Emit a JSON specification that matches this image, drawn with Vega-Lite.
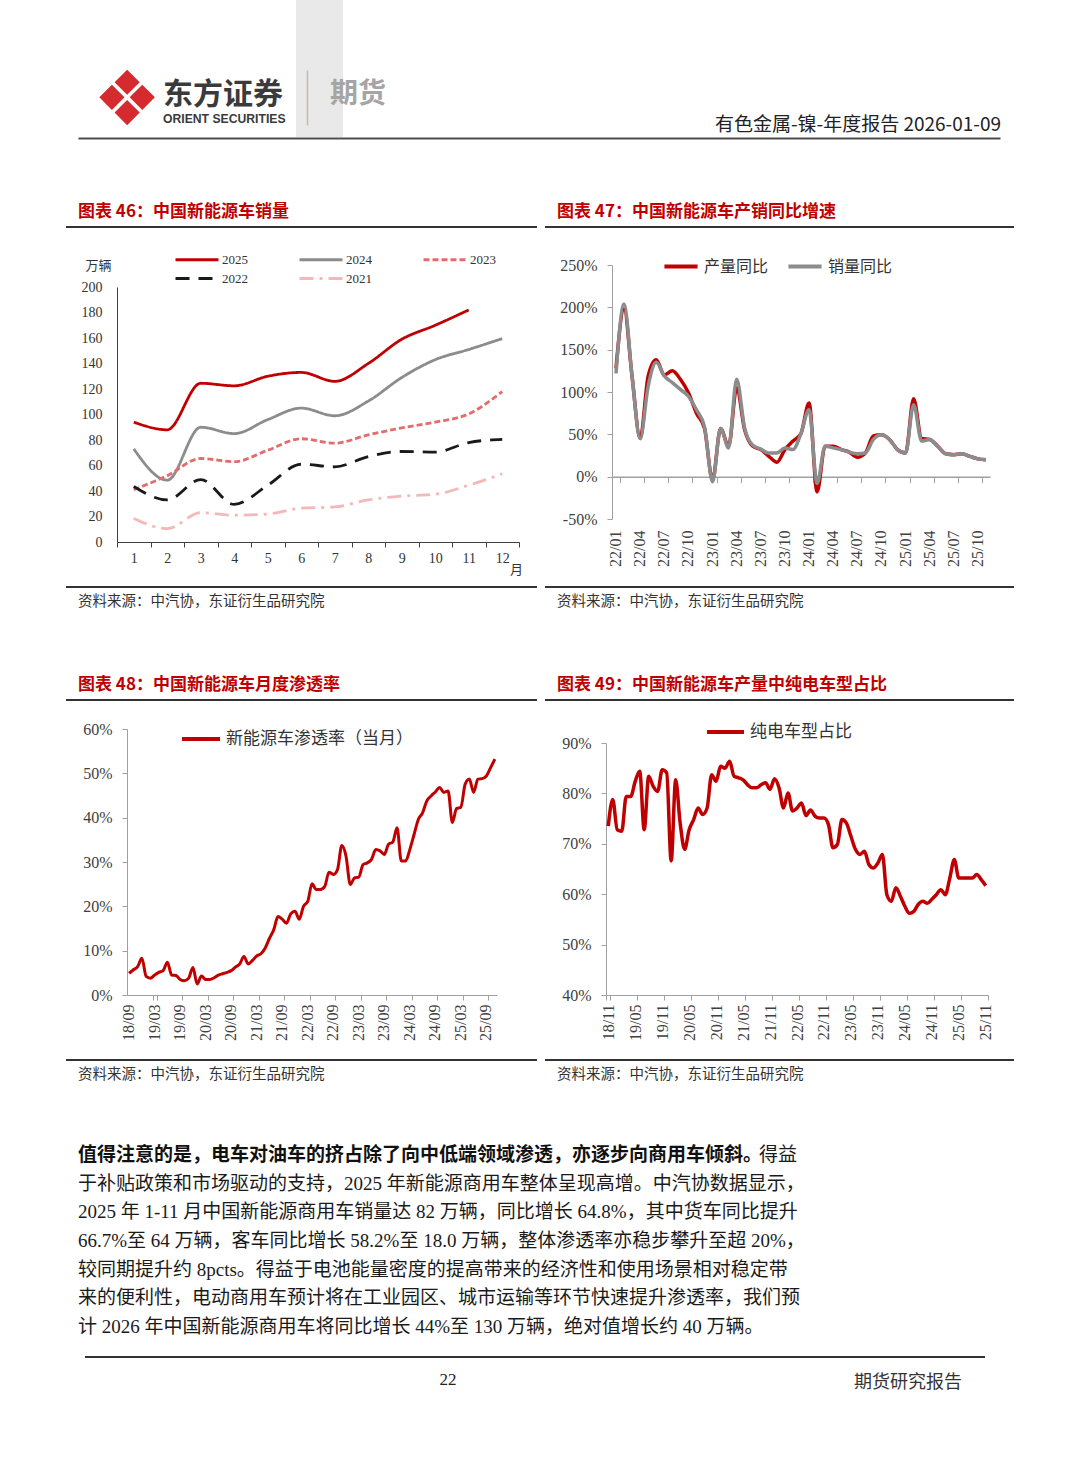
{
"$schema":"https://vega.github.io/schema/vega-lite/v6.json",
"background":"#ffffff",
"padding":0,
"autosize":{"type":"pad"},
"config":{"view":{"stroke":null},"axis":{"grid":false,"labelFont":"Liberation Serif","labelColor":"#404040","titleFont":"Noto Sans CJK SC"},"axisX":{"labelOverlap":false,"labelFlush":false,"labelBound":false},"legend":{"labelFont":"Noto Sans CJK SC"},"title":{"font":"Noto Sans CJK SC"}},
"spacing":0,
"resolve":{"scale":{"color":"independent","strokeDash":"independent"},"legend":{"color":"independent","strokeDash":"independent"}},
"vconcat":[
{"bounds":"flush","spacing":0,"hconcat":[
 {"width":91,"height":150,"data":{"values":[]},"mark":"point",
  "encoding":{"x":{"field":"v","type":"quantitative","scale":{"domain":[0,1],"range":[78,1000]},"axis":{"orient":"bottom","offset":-12,"domain":true,"domainColor":"#4d4d4d","domainWidth":2,"ticks":false,"labels":false,"title":null,"grid":false}}}},
 {"width":72,"height":137,"data":{"values":[]},"mark":"point","title":{"text":"❖","orient":"bottom","anchor":"start","frame":"group","baseline":"top","offset":-72,"dx":2,"font":"DejaVu Sans","fontSize":76,"fontWeight":"normal","color":"#d52b2e"}},
 {"width":133,"height":137,"data":{"values":[]},"mark":"point","title":{"text":"东方证券","subtitle":"ORIENT SECURITIES","orient":"bottom","anchor":"start","frame":"group","baseline":"top","offset":-57.3,"font":"Noto Sans CJK SC","fontSize":30,"fontWeight":"bold","color":"#3a3a3a","subtitleFont":"Liberation Sans","subtitleFontSize":12.2,"subtitleFontWeight":"bold","subtitleColor":"#3a3a3a","subtitlePadding":3}},
 {"width":11,"height":137,"data":{"values":[]},"mark":"point","view":{"fill":"#e9e9e9","stroke":null}},
 {"width":36,"height":137,"data":{"values":[]},"mark":"point","view":{"fill":"#e9e9e9","stroke":null},
  "encoding":{"y":{"field":"v","type":"quantitative","scale":{"domain":[0,1],"range":[125,70]},"axis":{"domain":true,"domainColor":"#c4bba6","domainWidth":1.5,"ticks":false,"labels":false,"title":null,"grid":false}}},
  "title":{"text":"期货","orient":"bottom","anchor":"start","frame":"group","baseline":"top","offset":-56.5,"dx":23,"font":"Noto Sans CJK SC","fontSize":28,"fontWeight":"bold","color":"#a5a5a5"}},
 {"width":658,"height":137,"data":{"values":[]},"mark":"point","title":{"text":"有色金属-镍-年度报告 2026-01-09","orient":"bottom","anchor":"end","frame":"group","baseline":"top","offset":-21,"font":"Noto Sans CJK SC","fontSize":19,"fontWeight":"normal","color":"#222222"}}
]},
{"bounds":"flush","spacing":0,"hconcat":[
 {"width":545,"height":76,"data":{"values":[]},"mark":"point","title":{"text":"图表 46：中国新能源车销量","orient":"bottom","anchor":"start","frame":"group","baseline":"top","offset":-22,"dx":78,"font":"Noto Sans CJK SC","fontSize":17,"fontWeight":"bold","color":"#c00000"}},
 {"width":469,"height":76,"data":{"values":[]},"mark":"point","title":{"text":"图表 47：中国新能源车产销同比增速","orient":"bottom","anchor":"start","frame":"group","baseline":"top","offset":-22,"dx":12,"font":"Noto Sans CJK SC","fontSize":17,"fontWeight":"bold","color":"#c00000"}}
]},
{"bounds":"flush","spacing":0,"hconcat":[
 {"width":66,"height":2,"data":{"values":[]},"mark":"point"},
 {"width":471,"height":2,"data":{"values":[]},"mark":"point","view":{"fill":"#333333","stroke":null}},
 {"width":8,"height":2,"data":{"values":[]},"mark":"point"},
 {"width":469,"height":2,"data":{"values":[]},"mark":"point","view":{"fill":"#333333","stroke":null}}
]},
{"bounds":"flush","spacing":0,
 "resolve":{"scale":{"color":"independent","strokeDash":"independent"},"legend":{"color":"independent","strokeDash":"independent"}},
 "hconcat":[
 {"width":117,"height":358,"data":{"values":[]},"mark":"point"},
 {"width":402,"height":314,
  "data":{"values":[
  {"yr":"2025","m":1,"v":94},{"yr":"2025","m":2,"v":88},{"yr":"2025","m":3,"v":124.5},{"yr":"2025","m":4,"v":122.5},{"yr":"2025","m":5,"v":130},{"yr":"2025","m":6,"v":133},{"yr":"2025","m":7,"v":126},{"yr":"2025","m":8,"v":140},{"yr":"2025","m":9,"v":159},{"yr":"2025","m":10,"v":170},{"yr":"2025","m":11,"v":182},
  {"yr":"2024","m":1,"v":73},{"yr":"2024","m":2,"v":48.5},{"yr":"2024","m":3,"v":90},{"yr":"2024","m":4,"v":85},{"yr":"2024","m":5,"v":96},{"yr":"2024","m":6,"v":105},{"yr":"2024","m":7,"v":99},{"yr":"2024","m":8,"v":110.5},{"yr":"2024","m":9,"v":129},{"yr":"2024","m":10,"v":143},{"yr":"2024","m":11,"v":151},{"yr":"2024","m":12,"v":159.5},
  {"yr":"2023","m":1,"v":41},{"yr":"2023","m":2,"v":52},{"yr":"2023","m":3,"v":65.5},{"yr":"2023","m":4,"v":63},{"yr":"2023","m":5,"v":72},{"yr":"2023","m":6,"v":81},{"yr":"2023","m":7,"v":77.5},{"yr":"2023","m":8,"v":84},{"yr":"2023","m":9,"v":89.5},{"yr":"2023","m":10,"v":94},{"yr":"2023","m":11,"v":100.5},{"yr":"2023","m":12,"v":118},
  {"yr":"2022","m":1,"v":43.5},{"yr":"2022","m":2,"v":33},{"yr":"2022","m":3,"v":49},{"yr":"2022","m":4,"v":29.5},{"yr":"2022","m":5,"v":44.5},{"yr":"2022","m":6,"v":61},{"yr":"2022","m":7,"v":59},{"yr":"2022","m":8,"v":67},{"yr":"2022","m":9,"v":71},{"yr":"2022","m":10,"v":70.5},{"yr":"2022","m":11,"v":78},{"yr":"2022","m":12,"v":80.5},
  {"yr":"2021","m":1,"v":18.5},{"yr":"2021","m":2,"v":10.5},{"yr":"2021","m":3,"v":23},{"yr":"2021","m":4,"v":21},{"yr":"2021","m":5,"v":22},{"yr":"2021","m":6,"v":26.5},{"yr":"2021","m":7,"v":27.5},{"yr":"2021","m":8,"v":33},{"yr":"2021","m":9,"v":36},{"yr":"2021","m":10,"v":37.5},{"yr":"2021","m":11,"v":44.5},{"yr":"2021","m":12,"v":53.5}
  ]},
  "mark":{"type":"line","interpolate":"monotone","strokeWidth":2.8},
  "encoding":{
   "x":{"field":"m","type":"ordinal","bandPosition":0.5,"scale":{"type":"band","paddingInner":0,"paddingOuter":0},
        "axis":{"labelAngle":0,"tickBand":"extent","domainColor":"#404040","tickColor":"#404040","tickSize":5,"labelPadding":4,"labelFontSize":14,"labelColor":"#333333","title":"月","titleX":399,"titleY":27,"titleAlign":"center","titleBaseline":"middle","titleFontSize":13,"titleFontWeight":"normal","titleColor":"#333333"}},
   "y":{"field":"v","type":"quantitative","scale":{"domain":[0,200],"range":[314,59],"nice":false},
        "axis":{"values":[0,20,40,60,80,100,120,140,160,180,200],"domainColor":"#404040","ticks":false,"labelPadding":15,"labelFontSize":14,"labelColor":"#333333","title":"万辆","titleAngle":0,"titleX":-19,"titleY":37,"titleAlign":"center","titleBaseline":"middle","titleFontSize":13,"titleFontWeight":"normal","titleColor":"#333333"}},
   "color":{"field":"yr","type":"nominal","scale":{"domain":["2025","2024","2023","2022","2021"],"range":["#c00000","#8c8c8c","#e36c6c","#1a1a1a","#f4b8b8"]},
        "legend":{"orient":"none","legendX":80,"legendY":20,"direction":"horizontal","columns":3,"title":null,"symbolType":"M-3.3,0H1","symbolSize":400,"symbolStrokeWidth":3,"labelFont":"Liberation Serif","labelFontSize":13,"labelColor":"#333333","labelOffset":2,"columnPadding":45,"rowPadding":-1}},
   "strokeDash":{"field":"yr","type":"nominal","scale":{"domain":["2025","2024","2023","2022","2021"],"range":[[1,0],[1,0],[6,3],[14,9],[14,6,3,6]]},
        "legend":{"orient":"none","legendX":80,"legendY":20,"direction":"horizontal","columns":3,"title":null,"symbolType":"M-3.3,0H1","symbolSize":400,"symbolStrokeWidth":3,"labelFont":"Liberation Serif","labelFontSize":13,"labelColor":"#333333","labelOffset":2,"columnPadding":45,"rowPadding":-1}}
  }},
 {"width":93,"height":1,"data":{"values":[]},"mark":"point"},
 {"width":378,"height":291,
  "data":{"values":[
  {"m":"22/01","s":"产量同比","v":128},{"m":"22/02","s":"产量同比","v":198},{"m":"22/03","s":"产量同比","v":118},{"m":"22/04","s":"产量同比","v":45},{"m":"22/05","s":"产量同比","v":119},{"m":"22/06","s":"产量同比","v":138},{"m":"22/07","s":"产量同比","v":120},{"m":"22/08","s":"产量同比","v":125},{"m":"22/09","s":"产量同比","v":115},{"m":"22/10","s":"产量同比","v":99},{"m":"22/11","s":"产量同比","v":75},{"m":"22/12","s":"产量同比","v":57},
  {"m":"23/01","s":"产量同比","v":-4},{"m":"23/02","s":"产量同比","v":57},{"m":"23/03","s":"产量同比","v":36},{"m":"23/04","s":"产量同比","v":105},{"m":"23/05","s":"产量同比","v":55},{"m":"23/06","s":"产量同比","v":36},{"m":"23/07","s":"产量同比","v":32},{"m":"23/08","s":"产量同比","v":24},{"m":"23/09","s":"产量同比","v":17},{"m":"23/10","s":"产量同比","v":32},{"m":"23/11","s":"产量同比","v":42},{"m":"23/12","s":"产量同比","v":51},
  {"m":"24/01","s":"产量同比","v":87},{"m":"24/02","s":"产量同比","v":-18},{"m":"24/03","s":"产量同比","v":36},{"m":"24/04","s":"产量同比","v":36},{"m":"24/05","s":"产量同比","v":32},{"m":"24/06","s":"产量同比","v":29},{"m":"24/07","s":"产量同比","v":23},{"m":"24/08","s":"产量同比","v":28},{"m":"24/09","s":"产量同比","v":48},{"m":"24/10","s":"产量同比","v":49.5},{"m":"24/11","s":"产量同比","v":44},{"m":"24/12","s":"产量同比","v":32},
  {"m":"25/01","s":"产量同比","v":28},{"m":"25/02","s":"产量同比","v":92},{"m":"25/03","s":"产量同比","v":45},{"m":"25/04","s":"产量同比","v":44},{"m":"25/05","s":"产量同比","v":36},{"m":"25/06","s":"产量同比","v":27},{"m":"25/07","s":"产量同比","v":26},{"m":"25/08","s":"产量同比","v":27},{"m":"25/09","s":"产量同比","v":24},{"m":"25/10","s":"产量同比","v":21},{"m":"25/11","s":"产量同比","v":20},
  {"m":"22/01","s":"销量同比","v":122},{"m":"22/02","s":"销量同比","v":204},{"m":"22/03","s":"销量同比","v":118},{"m":"22/04","s":"销量同比","v":45},{"m":"22/05","s":"销量同比","v":107},{"m":"22/06","s":"销量同比","v":135},{"m":"22/07","s":"销量同比","v":119},{"m":"22/08","s":"销量同比","v":111},{"m":"22/09","s":"销量同比","v":103},{"m":"22/10","s":"销量同比","v":95},{"m":"22/11","s":"销量同比","v":79},{"m":"22/12","s":"销量同比","v":59},
  {"m":"23/01","s":"销量同比","v":-6},{"m":"23/02","s":"销量同比","v":57},{"m":"23/03","s":"销量同比","v":34},{"m":"23/04","s":"销量同比","v":115},{"m":"23/05","s":"销量同比","v":57},{"m":"23/06","s":"销量同比","v":37},{"m":"23/07","s":"销量同比","v":32.5},{"m":"23/08","s":"销量同比","v":28},{"m":"23/09","s":"销量同比","v":28},{"m":"23/10","s":"销量同比","v":34},{"m":"23/11","s":"销量同比","v":32},{"m":"23/12","s":"销量同比","v":51},
  {"m":"24/01","s":"销量同比","v":79},{"m":"24/02","s":"销量同比","v":-8},{"m":"24/03","s":"销量同比","v":36},{"m":"24/04","s":"销量同比","v":34},{"m":"24/05","s":"销量同比","v":32},{"m":"24/06","s":"销量同比","v":29},{"m":"24/07","s":"销量同比","v":27},{"m":"24/08","s":"销量同比","v":28},{"m":"24/09","s":"销量同比","v":44},{"m":"24/10","s":"销量同比","v":49.5},{"m":"24/11","s":"销量同比","v":44},{"m":"24/12","s":"销量同比","v":32},
  {"m":"25/01","s":"销量同比","v":28},{"m":"25/02","s":"销量同比","v":85},{"m":"25/03","s":"销量同比","v":42},{"m":"25/04","s":"销量同比","v":44},{"m":"25/05","s":"销量同比","v":36},{"m":"25/06","s":"销量同比","v":27},{"m":"25/07","s":"销量同比","v":26},{"m":"25/08","s":"销量同比","v":27},{"m":"25/09","s":"销量同比","v":24},{"m":"25/10","s":"销量同比","v":21},{"m":"25/11","s":"销量同比","v":20}
  ]},
  "layer":[
   {"transform":[{"filter":"datum.s == '产量同比'"}],
    "mark":{"type":"line","interpolate":"monotone","strokeWidth":3.5},
    "encoding":{
     "x":{"field":"m","type":"ordinal","bandPosition":0.5,"scale":{"type":"band","paddingInner":0,"paddingOuter":0},
          "axis":{"orient":"bottom","values":["22/01","22/04","22/07","22/10","23/01","23/04","23/07","23/10","24/01","24/04","24/07","24/10","25/01","25/04","25/07","25/10"],"labelAngle":270,"domain":false,"ticks":false,"labelPadding":11,"labelFontSize":16,"title":null}},
     "y":{"field":"v","type":"quantitative","scale":{"domain":[-50,250],"range":[291,37],"nice":false},
          "axis":{"values":[-50,0,50,100,150,200,250],"labelExpr":"datum.value + '%'","title":null,"domainColor":"#a0a0a0","tickColor":"#a0a0a0","tickSize":5,"labelPadding":10,"labelFontSize":16}},
     "color":{"field":"s","type":"nominal","scale":{"domain":["产量同比","销量同比"],"range":["#c00000","#8c8c8c"]},
          "legend":{"orient":"none","legendX":50,"legendY":19.5,"direction":"horizontal","title":null,"symbolType":"stroke","symbolSize":1100,"symbolStrokeWidth":4,"labelFontSize":16,"labelColor":"#333333","labelOffset":4,"columnPadding":11}}
    }},
   {"transform":[{"filter":"datum.s == '销量同比'"}],
    "mark":{"type":"line","interpolate":"monotone","strokeWidth":3.5},
    "encoding":{
     "x":{"field":"m","type":"ordinal","bandPosition":0.5,"scale":{"type":"band","paddingInner":0,"paddingOuter":0},
          "axis":{"orient":"bottom","offset":-42.33,"values":["22/01","22/04","22/07","22/10","23/01","23/04","23/07","23/10","24/01","24/04","24/07","24/10","25/01","25/04","25/07","25/10"],"tickBand":"extent","labels":false,"title":null,"domainColor":"#a0a0a0","tickColor":"#a0a0a0","tickSize":6,"domainWidth":1.5}},
     "y":{"field":"v","type":"quantitative","scale":{"domain":[-50,250],"range":[291,37],"nice":false},
          "axis":{"values":[-50,0,50,100,150,200,250],"labelExpr":"datum.value + '%'","title":null,"domainColor":"#a0a0a0","tickColor":"#a0a0a0","tickSize":5,"labelPadding":10,"labelFontSize":16}},
     "color":{"field":"s","type":"nominal","scale":{"domain":["产量同比","销量同比"],"range":["#c00000","#8c8c8c"]},
          "legend":{"orient":"none","legendX":50,"legendY":19.5,"direction":"horizontal","title":null,"symbolType":"stroke","symbolSize":1100,"symbolStrokeWidth":4,"labelFontSize":16,"labelColor":"#333333","labelOffset":4,"columnPadding":11}}
    }}
  ],
  "resolve":{"axis":{"x":"independent"}}
 }
]},
{"bounds":"flush","spacing":0,"hconcat":[
 {"width":66,"height":113,"data":{"values":[]},"mark":"point","title":{"text":"图表 48：中国新能源车月度渗透率","orient":"bottom","anchor":"start","frame":"group","baseline":"top","offset":-22,"dx":78,"font":"Noto Sans CJK SC","fontSize":17,"fontWeight":"bold","color":"#c00000"}},
 {"width":471,"height":2,"data":{"values":[]},"mark":"point","view":{"fill":"#333333","stroke":null},"title":{"text":"资料来源：中汽协，东证衍生品研究院","orient":"bottom","anchor":"start","frame":"group","baseline":"top","offset":7.3,"dx":12,"font":"Noto Sans CJK SC","fontSize":14.5,"fontWeight":"normal","color":"#333333"}},
 {"width":8,"height":2,"data":{"values":[]},"mark":"point"},
 {"width":469,"height":2,"data":{"values":[]},"mark":"point","view":{"fill":"#333333","stroke":null},"title":{"text":"资料来源：中汽协，东证衍生品研究院","orient":"bottom","anchor":"start","frame":"group","baseline":"top","offset":7.3,"dx":12,"font":"Noto Sans CJK SC","fontSize":14.5,"fontWeight":"normal","color":"#333333"}},
 {"width":1,"height":1,"data":{"values":[]},"mark":"point","title":{"text":"图表 49：中国新能源车产量中纯电车型占比","orient":"bottom","anchor":"start","frame":"group","baseline":"top","offset":90,"dx":-457,"font":"Noto Sans CJK SC","fontSize":17,"fontWeight":"bold","color":"#c00000"}}
]},
{"bounds":"flush","spacing":0,"hconcat":[
 {"width":66,"height":2,"data":{"values":[]},"mark":"point"},
 {"width":471,"height":2,"data":{"values":[]},"mark":"point","view":{"fill":"#333333","stroke":null}},
 {"width":8,"height":2,"data":{"values":[]},"mark":"point"},
 {"width":469,"height":2,"data":{"values":[]},"mark":"point","view":{"fill":"#333333","stroke":null}}
]},
{"bounds":"flush","spacing":0,
 "resolve":{"scale":{"color":"independent"},"legend":{"color":"independent"}},
 "hconcat":[
 {"width":127,"height":358,"data":{"values":[]},"mark":"point"},
 {"width":370,"height":294,
  "data":{"values":[
  {"m":"18/09","s":"新能源车渗透率（当月）","v":4.9},{"m":"18/10","s":"新能源车渗透率（当月）","v":5.7},{"m":"18/11","s":"新能源车渗透率（当月）","v":6.4},{"m":"18/12","s":"新能源车渗透率（当月）","v":8.3},
  {"m":"19/01","s":"新能源车渗透率（当月）","v":4.2},{"m":"19/02","s":"新能源车渗透率（当月）","v":3.8},{"m":"19/03","s":"新能源车渗透率（当月）","v":4.5},{"m":"19/04","s":"新能源车渗透率（当月）","v":5.1},{"m":"19/05","s":"新能源车渗透率（当月）","v":5.5},{"m":"19/06","s":"新能源车渗透率（当月）","v":7.4},{"m":"19/07","s":"新能源车渗透率（当月）","v":4.5},{"m":"19/08","s":"新能源车渗透率（当月）","v":4.4},{"m":"19/09","s":"新能源车渗透率（当月）","v":3.5},{"m":"19/10","s":"新能源车渗透率（当月）","v":3.2},{"m":"19/11","s":"新能源车渗透率（当月）","v":3.8},{"m":"19/12","s":"新能源车渗透率（当月）","v":6.2},
  {"m":"20/01","s":"新能源车渗透率（当月）","v":2.5},{"m":"20/02","s":"新能源车渗透率（当月）","v":4.3},{"m":"20/03","s":"新能源车渗透率（当月）","v":3.5},{"m":"20/04","s":"新能源车渗透率（当月）","v":3.5},{"m":"20/05","s":"新能源车渗透率（当月）","v":3.9},{"m":"20/06","s":"新能源车渗透率（当月）","v":4.5},{"m":"20/07","s":"新能源车渗透率（当月）","v":4.8},{"m":"20/08","s":"新能源车渗透率（当月）","v":5.1},{"m":"20/09","s":"新能源车渗透率（当月）","v":5.5},{"m":"20/10","s":"新能源车渗透率（当月）","v":6.3},{"m":"20/11","s":"新能源车渗透率（当月）","v":7.0},{"m":"20/12","s":"新能源车渗透率（当月）","v":8.7},
  {"m":"21/01","s":"新能源车渗透率（当月）","v":7.0},{"m":"21/02","s":"新能源车渗透率（当月）","v":7.8},{"m":"21/03","s":"新能源车渗透率（当月）","v":8.8},{"m":"21/04","s":"新能源车渗透率（当月）","v":9.3},{"m":"21/05","s":"新能源车渗透率（当月）","v":10.6},{"m":"21/06","s":"新能源车渗透率（当月）","v":12.8},{"m":"21/07","s":"新能源车渗透率（当月）","v":14.7},{"m":"21/08","s":"新能源车渗透率（当月）","v":17.7},{"m":"21/09","s":"新能源车渗透率（当月）","v":17.1},{"m":"21/10","s":"新能源车渗透率（当月）","v":16.2},{"m":"21/11","s":"新能源车渗透率（当月）","v":18.3},{"m":"21/12","s":"新能源车渗透率（当月）","v":18.9},
  {"m":"22/01","s":"新能源车渗透率（当月）","v":17.1},{"m":"22/02","s":"新能源车渗透率（当月）","v":20.0},{"m":"22/03","s":"新能源车渗透率（当月）","v":21.1},{"m":"22/04","s":"新能源车渗透率（当月）","v":25.1},{"m":"22/05","s":"新能源车渗透率（当月）","v":23.8},{"m":"22/06","s":"新能源车渗透率（当月）","v":23.8},{"m":"22/07","s":"新能源车渗透率（当月）","v":24.5},{"m":"22/08","s":"新能源车渗透率（当月）","v":27.7},{"m":"22/09","s":"新能源车渗透率（当月）","v":27.2},{"m":"22/10","s":"新能源车渗透率（当月）","v":28.3},{"m":"22/11","s":"新能源车渗透率（当月）","v":33.7},{"m":"22/12","s":"新能源车渗透率（当月）","v":31.3},
  {"m":"23/01","s":"新能源车渗透率（当月）","v":24.9},{"m":"23/02","s":"新能源车渗透率（当月）","v":26.4},{"m":"23/03","s":"新能源车渗透率（当月）","v":26.6},{"m":"23/04","s":"新能源车渗透率（当月）","v":29.4},{"m":"23/05","s":"新能源车渗透率（当月）","v":29.8},{"m":"23/06","s":"新能源车渗透率（当月）","v":30.6},{"m":"23/07","s":"新能源车渗透率（当月）","v":32.8},{"m":"23/08","s":"新能源车渗透率（当月）","v":32.5},{"m":"23/09","s":"新能源车渗透率（当月）","v":31.7},{"m":"23/10","s":"新能源车渗透率（当月）","v":34.0},{"m":"23/11","s":"新能源车渗透率（当月）","v":34.5},{"m":"23/12","s":"新能源车渗透率（当月）","v":37.7},
  {"m":"24/01","s":"新能源车渗透率（当月）","v":30.2},{"m":"24/02","s":"新能源车渗透率（当月）","v":30.2},{"m":"24/03","s":"新能源车渗透率（当月）","v":32.8},{"m":"24/04","s":"新能源车渗透率（当月）","v":36.2},{"m":"24/05","s":"新能源车渗透率（当月）","v":39.6},{"m":"24/06","s":"新能源车渗透率（当月）","v":41.1},{"m":"24/07","s":"新能源车渗透率（当月）","v":43.8},{"m":"24/08","s":"新能源车渗透率（当月）","v":44.9},{"m":"24/09","s":"新能源车渗透率（当月）","v":45.8},{"m":"24/10","s":"新能源车渗透率（当月）","v":46.8},{"m":"24/11","s":"新能源车渗透率（当月）","v":45.7},{"m":"24/12","s":"新能源车渗透率（当月）","v":46.0},
  {"m":"25/01","s":"新能源车渗透率（当月）","v":38.9},{"m":"25/02","s":"新能源车渗透率（当月）","v":42.1},{"m":"25/03","s":"新能源车渗透率（当月）","v":42.3},{"m":"25/04","s":"新能源车渗透率（当月）","v":47.5},{"m":"25/05","s":"新能源车渗透率（当月）","v":48.7},{"m":"25/06","s":"新能源车渗透率（当月）","v":45.7},{"m":"25/07","s":"新能源车渗透率（当月）","v":48.7},{"m":"25/08","s":"新能源车渗透率（当月）","v":48.8},{"m":"25/09","s":"新能源车渗透率（当月）","v":49.4},{"m":"25/10","s":"新能源车渗透率（当月）","v":51.3},{"m":"25/11","s":"新能源车渗透率（当月）","v":53.2}
  ]},
  "layer":[
   {"mark":{"type":"line","interpolate":"monotone","strokeWidth":3},
    "encoding":{
     "x":{"field":"m","type":"ordinal","bandPosition":0.5,"scale":{"type":"band","paddingInner":0,"paddingOuter":0},
          "axis":{"orient":"bottom","values":["18/10","19/04","19/10","20/04","20/10","21/04","21/10","22/04","22/10","23/04","23/10","24/04","24/10","25/04","25/10"],"labelExpr":"replace(replace(datum.label, '/10', '/09'), '/04', '/03')","labelOffset":-4.25,"labelAngle":270,"labelOverlap":false,"labelBound":false,"labelFlush":false,"domain":false,"ticks":false,"labelPadding":9,"labelFontSize":16,"title":null}},
     "y":{"field":"v","type":"quantitative","scale":{"domain":[0,60],"range":[294,28],"nice":false},
          "axis":{"values":[0,10,20,30,40,50,60],"labelExpr":"datum.value + '%'","title":null,"domainColor":"#a0a0a0","tickColor":"#a0a0a0","tickSize":5,"labelPadding":10,"labelFontSize":16}},
     "color":{"field":"s","type":"nominal","scale":{"range":["#c00000"]},
          "legend":{"orient":"none","legendX":53,"legendY":17,"direction":"horizontal","title":null,"symbolType":"stroke","symbolSize":1444,"symbolStrokeWidth":4,"labelFontSize":17,"labelColor":"#333333","labelOffset":4,"labelLimit":400}}
    }},
   {"mark":{"type":"line","interpolate":"monotone","strokeWidth":3,"opacity":0},
    "encoding":{
     "x":{"field":"m","type":"ordinal","bandPosition":0.5,"scale":{"type":"band","paddingInner":0,"paddingOuter":0},
          "axis":{"orient":"bottom","values":["18/09","19/03","19/09","20/03","20/09","21/03","21/09","22/03","22/09","23/03","23/09","24/03","24/09","25/03","25/09"],"tickBand":"extent","labels":false,"title":null,"domainColor":"#a0a0a0","tickColor":"#a0a0a0","tickSize":5}},
     "y":{"field":"v","type":"quantitative","scale":{"domain":[0,60],"range":[294,28],"nice":false},
          "axis":{"values":[0,10,20,30,40,50,60],"labelExpr":"datum.value + '%'","title":null,"domainColor":"#a0a0a0","tickColor":"#a0a0a0","tickSize":5,"labelPadding":10,"labelFontSize":16}}
    }}
  ],
  "resolve":{"axis":{"x":"independent"}}
 },
 {"width":109,"height":1,"data":{"values":[]},"mark":"point"},
 {"width":382,"height":294,
  "data":{"values":[
  {"m":"18/11","s":"纯电车型占比","v":73.5},{"m":"18/12","s":"纯电车型占比","v":78.8},
  {"m":"19/01","s":"纯电车型占比","v":72.8},{"m":"19/02","s":"纯电车型占比","v":72.5},{"m":"19/03","s":"纯电车型占比","v":79.4},{"m":"19/04","s":"纯电车型占比","v":79.4},{"m":"19/05","s":"纯电车型占比","v":82.4},{"m":"19/06","s":"纯电车型占比","v":84.4},{"m":"19/07","s":"纯电车型占比","v":72.8},{"m":"19/08","s":"纯电车型占比","v":83.4},{"m":"19/09","s":"纯电车型占比","v":81.4},{"m":"19/10","s":"纯电车型占比","v":80.4},{"m":"19/11","s":"纯电车型占比","v":84.7},{"m":"19/12","s":"纯电车型占比","v":84.1},
  {"m":"20/01","s":"纯电车型占比","v":66.6},{"m":"20/02","s":"纯电车型占比","v":82.7},{"m":"20/03","s":"纯电车型占比","v":74.1},{"m":"20/04","s":"纯电车型占比","v":68.9},{"m":"20/05","s":"纯电车型占比","v":72.8},{"m":"20/06","s":"纯电车型占比","v":74.8},{"m":"20/07","s":"纯电车型占比","v":77.1},{"m":"20/08","s":"纯电车型占比","v":75.8},{"m":"20/09","s":"纯电车型占比","v":77.1},{"m":"20/10","s":"纯电车型占比","v":83.7},{"m":"20/11","s":"纯电车型占比","v":82.4},{"m":"20/12","s":"纯电车型占比","v":85.4},
  {"m":"21/01","s":"纯电车型占比","v":85.0},{"m":"21/02","s":"纯电车型占比","v":86.4},{"m":"21/03","s":"纯电车型占比","v":83.4},{"m":"21/04","s":"纯电车型占比","v":83.1},{"m":"21/05","s":"纯电车型占比","v":82.7},{"m":"21/06","s":"纯电车型占比","v":81.7},{"m":"21/07","s":"纯电车型占比","v":81.1},{"m":"21/08","s":"纯电车型占比","v":81.1},{"m":"21/09","s":"纯电车型占比","v":81.7},{"m":"21/10","s":"纯电车型占比","v":82.1},{"m":"21/11","s":"纯电车型占比","v":80.8},{"m":"21/12","s":"纯电车型占比","v":82.9},
  {"m":"22/01","s":"纯电车型占比","v":81.1},{"m":"22/02","s":"纯电车型占比","v":77.1},{"m":"22/03","s":"纯电车型占比","v":80.1},{"m":"22/04","s":"纯电车型占比","v":76.5},{"m":"22/05","s":"纯电车型占比","v":77.1},{"m":"22/06","s":"纯电车型占比","v":78.1},{"m":"22/07","s":"纯电车型占比","v":75.6},{"m":"22/08","s":"纯电车型占比","v":76.7},{"m":"22/09","s":"纯电车型占比","v":75.5},{"m":"22/10","s":"纯电车型占比","v":75.1},{"m":"22/11","s":"纯电车型占比","v":75.1},{"m":"22/12","s":"纯电车型占比","v":73.8},
  {"m":"23/01","s":"纯电车型占比","v":69.2},{"m":"23/02","s":"纯电车型占比","v":69.9},{"m":"23/03","s":"纯电车型占比","v":74.8},{"m":"23/04","s":"纯电车型占比","v":74.1},{"m":"23/05","s":"纯电车型占比","v":71.5},{"m":"23/06","s":"纯电车型占比","v":68.9},{"m":"23/07","s":"纯电车型占比","v":67.9},{"m":"23/08","s":"纯电车型占比","v":68.5},{"m":"23/09","s":"纯电车型占比","v":65.9},{"m":"23/10","s":"纯电车型占比","v":65.2},{"m":"23/11","s":"纯电车型占比","v":66.2},{"m":"23/12","s":"纯电车型占比","v":67.9},
  {"m":"24/01","s":"纯电车型占比","v":59.9},{"m":"24/02","s":"纯电车型占比","v":58.6},{"m":"24/03","s":"纯电车型占比","v":61.3},{"m":"24/04","s":"纯电车型占比","v":59.6},{"m":"24/05","s":"纯电车型占比","v":57.6},{"m":"24/06","s":"纯电车型占比","v":56.2},{"m":"24/07","s":"纯电车型占比","v":56.6},{"m":"24/08","s":"纯电车型占比","v":58.0},{"m":"24/09","s":"纯电车型占比","v":58.6},{"m":"24/10","s":"纯电车型占比","v":58.2},{"m":"24/11","s":"纯电车型占比","v":59.0},{"m":"24/12","s":"纯电车型占比","v":59.9},
  {"m":"25/01","s":"纯电车型占比","v":60.9},{"m":"25/02","s":"纯电车型占比","v":59.9},{"m":"25/03","s":"纯电车型占比","v":63.2},{"m":"25/04","s":"纯电车型占比","v":66.9},{"m":"25/05","s":"纯电车型占比","v":63.2},{"m":"25/06","s":"纯电车型占比","v":63.2},{"m":"25/07","s":"纯电车型占比","v":63.2},{"m":"25/08","s":"纯电车型占比","v":63.2},{"m":"25/09","s":"纯电车型占比","v":63.9},{"m":"25/10","s":"纯电车型占比","v":62.9},{"m":"25/11","s":"纯电车型占比","v":61.7}
  ]},
  "mark":{"type":"line","interpolate":"monotone","strokeWidth":3.5},
  "encoding":{
   "x":{"field":"m","type":"ordinal","bandPosition":0.5,"scale":{"type":"band","paddingInner":0,"paddingOuter":0},
        "axis":{"values":["18/11","19/05","19/11","20/05","20/11","21/05","21/11","22/05","22/11","23/05","23/11","24/05","24/11","25/05","25/11"],"labelAngle":270,"tickBand":"extent","tickSize":5,"labelPadding":4,"domainColor":"#a0a0a0","tickColor":"#a0a0a0","labelFontSize":16,"title":null}},
   "y":{"field":"v","type":"quantitative","scale":{"domain":[40,90],"range":[294,42],"nice":false,"zero":false},
        "axis":{"values":[40,50,60,70,80,90],"labelExpr":"datum.value + '%'","title":null,"domainColor":"#a0a0a0","tickColor":"#a0a0a0","tickSize":5,"labelPadding":10,"labelFontSize":16}},
   "color":{"field":"s","type":"nominal","scale":{"range":["#c00000"]},
        "legend":{"orient":"none","legendX":99,"legendY":10.5,"direction":"horizontal","title":null,"symbolType":"stroke","symbolSize":1369,"symbolStrokeWidth":4,"labelFontSize":17,"labelColor":"#333333","labelOffset":4}}
  }}
]},
{"bounds":"flush","spacing":0,"hconcat":[
 {"width":66,"height":82,"data":{"values":[]},"mark":"point"},
 {"width":471,"height":2,"data":{"values":[]},"mark":"point","view":{"fill":"#333333","stroke":null},"title":{"text":"资料来源：中汽协，东证衍生品研究院","orient":"bottom","anchor":"start","frame":"group","baseline":"top","offset":7.3,"dx":12,"font":"Noto Sans CJK SC","fontSize":14.5,"fontWeight":"normal","color":"#333333"}},
 {"width":8,"height":2,"data":{"values":[]},"mark":"point"},
 {"width":469,"height":2,"data":{"values":[]},"mark":"point","view":{"fill":"#333333","stroke":null},"title":{"text":"资料来源：中汽协，东证衍生品研究院","orient":"bottom","anchor":"start","frame":"group","baseline":"top","offset":7.3,"dx":12,"font":"Noto Sans CJK SC","fontSize":14.5,"fontWeight":"normal","color":"#333333"}}
]},
{"bounds":"flush","spacing":0,"hconcat":[
 {"width":78,"height":215,"data":{"values":[]},"mark":"point"},
 {"width":719,"height":200,
  "data":{"values":[
   {"line":0,"k":"b","t":"值得注意的是，电车对油车的挤占除了向中低端领域渗透，亦逐步向商用车倾斜。"},
   {"line":0,"k":"e","t":"得益"},
   {"line":1,"k":"r","t":"于补贴政策和市场驱动的支持，2025 年新能源商用车整体呈现高增。中汽协数据显示，"},
   {"line":2,"k":"r","t":"2025 年 1-11 月中国新能源商用车销量达 82 万辆，同比增长 64.8%，其中货车同比提升"},
   {"line":3,"k":"r","t":"66.7%至 64 万辆，客车同比增长 58.2%至 18.0 万辆，整体渗透率亦稳步攀升至超 20%，"},
   {"line":4,"k":"r","t":"较同期提升约 8pcts。得益于电池能量密度的提高带来的经济性和使用场景相对稳定带"},
   {"line":5,"k":"r","t":"来的便利性，电动商用车预计将在工业园区、城市运输等环节快速提升渗透率，我们预"},
   {"line":6,"k":"r","t":"计 2026 年中国新能源商用车将同比增长 44%至 130 万辆，绝对值增长约 40 万辆。"}
  ]},
  "layer":[
   {"transform":[{"filter":"datum.k == 'b'"}],
    "mark":{"type":"text","align":"left","baseline":"middle","font":"Liberation Serif, Noto Sans CJK SC","fontSize":19,"fontWeight":"bold","color":"#111111"},
    "encoding":{"x":{"value":0},"y":{"field":"line","type":"quantitative","scale":{"domain":[-0.5,6.5],"reverse":true,"nice":false,"zero":false},"axis":null},"text":{"field":"t"}}},
   {"transform":[{"filter":"datum.k == 'r'"}],
    "mark":{"type":"text","align":"left","baseline":"middle","font":"Liberation Serif, Noto Sans CJK SC","fontSize":19,"fontWeight":"normal","color":"#1a1a1a"},
    "encoding":{"x":{"value":0},"y":{"field":"line","type":"quantitative","scale":{"domain":[-0.5,6.5],"reverse":true,"nice":false,"zero":false},"axis":null},"text":{"field":"t"}}},
   {"transform":[{"filter":"datum.k == 'e'"}],
    "mark":{"type":"text","align":"right","baseline":"middle","font":"Liberation Serif, Noto Sans CJK SC","fontSize":19,"fontWeight":"normal","color":"#1a1a1a"},
    "encoding":{"x":{"value":"width"},"y":{"field":"line","type":"quantitative","scale":{"domain":[-0.5,6.5],"reverse":true,"nice":false,"zero":false},"axis":null},"text":{"field":"t"}}}
  ]}
]},
{"bounds":"flush","spacing":0,"hconcat":[
 {"width":85,"height":40,"data":{"values":[]},"mark":"point","title":{"text":"22","orient":"bottom","anchor":"middle","frame":"group","baseline":"top","offset":-24.2,"dx":405.5,"font":"Liberation Serif","fontSize":17,"fontWeight":"normal","color":"#222222"}},
 {"width":900,"height":2,"data":{"values":[]},"mark":"point","view":{"fill":"#333333","stroke":null},"title":{"text":"期货研究报告","orient":"bottom","anchor":"end","frame":"group","baseline":"top","offset":15.6,"dx":-23,"font":"Noto Sans CJK SC","fontSize":18,"fontWeight":"normal","color":"#333333"}}
]}
]
}
